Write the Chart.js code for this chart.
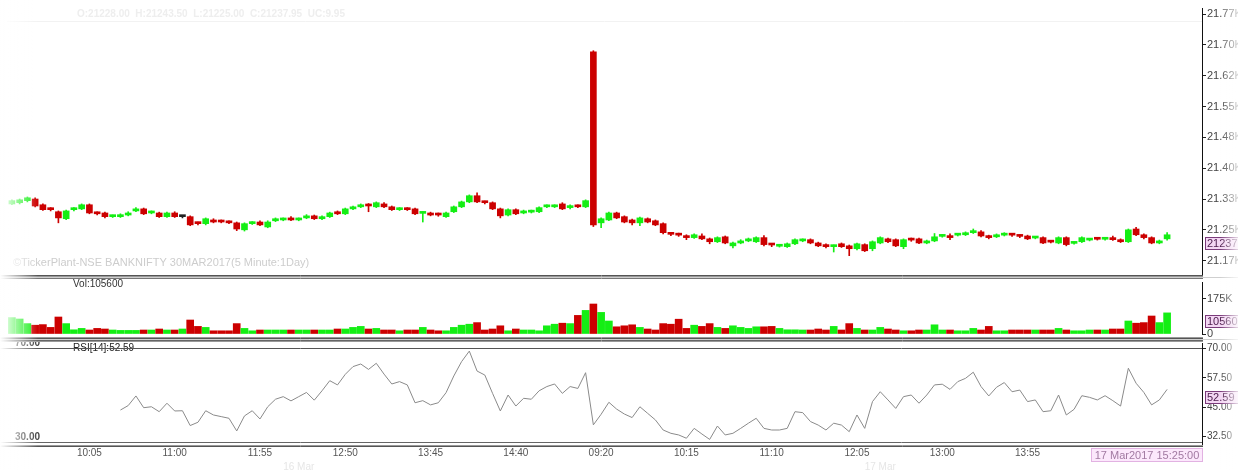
<!DOCTYPE html>
<html>
<head>
<meta charset="utf-8">
<script src="https://cdn.jsdelivr.net/npm/chart.js@4.4.1/dist/chart.umd.min.js"></script>
<style>
  html, body { margin: 0; padding: 0; background: #fff; }
  #wrap { position: relative; width: 1238px; height: 470px; overflow: hidden; }
  #wrap canvas { position: absolute; left: 0; }
</style>
</head>
<body>
<div id="wrap">
  <canvas id="priceChart" width="1238" height="278" style="top:0"></canvas>
  <canvas id="volChart" width="1238" height="63" style="top:277px"></canvas>
  <canvas id="rsiChart" width="1238" height="130" style="top:340px"></canvas>
</div>
<script>
// 5 minute bars, two sessions of 75 bars each
const sessions = ['16 Mar', '17 Mar'];
const tickTimes = ['10:05', '11:00', '11:55', '12:50', '13:45', '14:40', '09:20', '10:15', '11:10', '12:05', '13:00', '13:55'];

const priceTicks = [21175, 21250, 21325, 21400, 21475, 21550, 21625, 21700, 21775];
const priceTickLabels = ['21.17K', '21.25K', '21.33K', '21.40K', '21.48K', '21.55K', '21.62K', '21.70K', '21.77K'];
const volTicks = [0, 175000];
const volTickLabels = ['0', '175K'];
const rsiTicks = [32.5, 45, 57.5, 70];
const rsiTickLabels = ['32.50', '45.00', '57.50', '70.00'];

const open = [
  21313, 21316, 21321, 21325, 21311, 21301, 21294, 21277, 21299, 21301,
  21311, 21291, 21291, 21282, 21282, 21286, 21296, 21301, 21291, 21291,
  21282, 21291, 21282, 21282, 21267, 21265, 21274, 21272, 21269, 21267,
  21250, 21265, 21269, 21257, 21272, 21274, 21279, 21274, 21279, 21284,
  21277, 21282, 21294, 21289, 21301, 21306, 21311, 21306, 21313, 21306,
  21299, 21301, 21301, 21290, 21291, 21289, 21282, 21294, 21306, 21318,
  21333, 21318, 21316, 21301, 21286, 21299, 21291, 21293, 21294, 21306,
  21306, 21313, 21304, 21308, 21306,
  21683, 21267, 21274, 21291, 21282, 21274, 21267, 21277, 21272, 21265,
  21241, 21239, 21235, 21231, 21235, 21228, 21221, 21233, 21211, 21218,
  21223, 21221, 21231, 21215, 21210, 21209, 21216, 21223, 21226, 21218,
  21214, 21209, 21216, 21211, 21204, 21214, 21204, 21218, 21228, 21226,
  21209, 21227, 21228, 21218, 21223, 21234, 21235, 21237, 21238, 21243,
  21245, 21235, 21233, 21237, 21239, 21236, 21235, 21230, 21231, 21222,
  21218, 21231, 21217, 21221, 21225, 21229, 21227, 21231, 21226, 21221,
  21252, 21238, 21231, 21218, 21228
];
const high = [
  21323, 21325, 21330, 21328, 21313, 21304, 21296, 21298, 21304, 21313,
  21313, 21294, 21293, 21286, 21289, 21294, 21304, 21303, 21296, 21293,
  21293, 21294, 21285, 21284, 21269, 21279, 21277, 21274, 21272, 21269,
  21267, 21270, 21272, 21272, 21279, 21279, 21282, 21279, 21287, 21286,
  21284, 21293, 21296, 21303, 21308, 21313, 21314, 21318, 21316, 21308,
  21304, 21304, 21303, 21294, 21293, 21291, 21293, 21308, 21320, 21335,
  21340, 21320, 21318, 21303, 21301, 21301, 21298, 21298, 21306, 21311,
  21311, 21316, 21311, 21311, 21323,
  21686, 21279, 21293, 21293, 21284, 21276, 21281, 21279, 21274, 21267,
  21244, 21242, 21238, 21240, 21240, 21230, 21233, 21235, 21220, 21226,
  21230, 21233, 21236, 21217, 21214, 21218, 21228, 21228, 21228, 21220,
  21216, 21213, 21218, 21213, 21218, 21216, 21223, 21233, 21230, 21228,
  21228, 21230, 21230, 21225, 21241, 21238, 21240, 21241, 21245, 21252,
  21248, 21237, 21240, 21243, 21241, 21238, 21237, 21234, 21233, 21224,
  21233, 21233, 21221, 21233, 21229, 21231, 21231, 21235, 21228, 21252,
  21256, 21240, 21233, 21225, 21243.5
];
const low = [
  21311, 21313, 21318, 21306, 21297, 21296, 21267, 21275, 21296, 21299,
  21289, 21286, 21279, 21280, 21280, 21284, 21294, 21287, 21289, 21280,
  21280, 21280, 21279, 21260, 21262, 21262, 21267, 21267, 21265, 21248,
  21247, 21263, 21260, 21255, 21270, 21272, 21272, 21272, 21277, 21275,
  21275, 21280, 21287, 21287, 21299, 21304, 21294, 21304, 21304, 21297,
  21297, 21297, 21287, 21269, 21284, 21283, 21280, 21292, 21304, 21316,
  21316, 21313, 21299, 21279, 21284, 21287, 21289, 21291, 21292, 21304,
  21304, 21299, 21301, 21304, 21304,
  21258, 21255, 21272, 21277, 21267, 21262, 21260, 21267, 21260, 21240,
  21236, 21234, 21226, 21229, 21226, 21216, 21219, 21216, 21206, 21216,
  21221, 21219, 21211, 21209, 21208, 21207, 21214, 21221, 21216, 21209,
  21206, 21196, 21207, 21187, 21201, 21197, 21199, 21216, 21219, 21209,
  21204, 21222, 21216, 21216, 21221, 21232, 21226, 21235, 21236, 21241,
  21233, 21228, 21231, 21235, 21234, 21231, 21226, 21228, 21216, 21218,
  21216, 21211, 21215, 21219, 21223, 21225, 21225, 21224, 21219, 21219,
  21236, 21228, 21216, 21216, 21225
];
const close = [
  21321, 21323, 21328, 21308, 21299, 21299, 21279, 21296, 21301, 21311,
  21291, 21289, 21282, 21284, 21286, 21291, 21301, 21289, 21294, 21282,
  21291, 21282, 21282, 21262, 21265, 21277, 21269, 21269, 21267, 21252,
  21265, 21267, 21262, 21269, 21277, 21277, 21274, 21277, 21284, 21277,
  21282, 21291, 21289, 21301, 21306, 21311, 21308, 21316, 21306, 21299,
  21301, 21299, 21289, 21292, 21286, 21286, 21291, 21306, 21318, 21333,
  21318, 21316, 21301, 21284, 21299, 21289, 21296, 21295, 21304, 21308,
  21308, 21301, 21308, 21306, 21321,
  21262, 21277, 21291, 21279, 21269, 21267, 21279, 21269, 21262, 21243,
  21239, 21237, 21231, 21238, 21228, 21221, 21231, 21218, 21218, 21223,
  21228, 21231, 21214, 21213, 21212, 21216, 21226, 21226, 21218, 21211,
  21209, 21211, 21209, 21204, 21216, 21199, 21221, 21231, 21221, 21211,
  21226, 21225, 21218, 21223, 21233, 21236, 21231, 21239, 21243, 21248,
  21235, 21231, 21238, 21239, 21237, 21234, 21228, 21232, 21218, 21220,
  21231, 21214, 21219, 21231, 21227, 21227, 21229, 21226, 21221, 21250,
  21238, 21231, 21218, 21223, 21237.95
];
const volume = [
  82000, 75000, 52000, 44000, 47000, 33000, 85000, 52000, 21000, 28000,
  20000, 28000, 25000, 20000, 18000, 18000, 18000, 20000, 20000, 25000,
  20000, 20000, 25000, 70000, 38000, 33000, 16000, 16000, 16000, 52000,
  28000, 16000, 20000, 20000, 20000, 20000, 20000, 20000, 20000, 20000,
  20000, 20000, 25000, 25000, 33000, 38000, 25000, 28000, 20000, 20000,
  16000, 20000, 20000, 33000, 20000, 16000, 16000, 33000, 44000, 49000,
  57000, 20000, 25000, 41000, 16000, 25000, 20000, 20000, 16000, 41000,
  49000, 54000, 52000, 93000, 118000,
  150000, 108000, 65000, 36000, 41000, 46000, 33000, 25000, 20000, 52000,
  49000, 74000, 28000, 44000, 38000, 52000, 33000, 28000, 41000, 33000,
  28000, 36000, 36000, 38000, 28000, 21000, 21000, 20000, 20000, 25000,
  20000, 38000, 20000, 52000, 28000, 20000, 20000, 33000, 25000, 20000,
  16000, 16000, 20000, 20000, 46000, 20000, 20000, 16000, 16000, 28000,
  20000, 38000, 16000, 16000, 20000, 20000, 20000, 20000, 20000, 20000,
  28000, 20000, 16000, 16000, 20000, 20000, 20000, 25000, 25000, 65000,
  54000, 57000, 90000, 57000, 105600
];
const rsi = [
  null, null, null, null, null, null, null, null, null, null,
  null, null, null, null, 43.8, 45.7, 49.8, 44.8, 45.2, 43.1,
  46.7, 43.4, 43.5, 37.2, 38.6, 43.5, 41.7, 41.0, 40.3, 34.9,
  41.3, 43.5, 40.0, 45.2, 48.4, 49.5, 47.7, 49.5, 51.3, 48.0,
  52.0, 56.3, 54.5, 59.0, 62.3, 63.4, 61.1, 63.7, 59.1, 54.9,
  55.9, 54.5, 46.9, 47.8, 46.0, 46.9, 51.2, 58.3, 64.4, 68.9,
  60.4, 58.7, 50.9, 43.4, 50.2, 45.5, 48.8, 48.4, 52.0, 53.8,
  54.9, 50.9, 53.8, 53.0, 59.7,
  37.5, 42.0, 47.1, 44.2, 42.1, 40.6, 45.2, 42.4, 39.6, 35.3,
  33.9, 33.2, 31.8, 36.0, 33.6, 31.3, 37.0, 33.2, 33.9, 36.0,
  38.2, 40.3, 36.0, 35.3, 35.3, 36.0, 43.1, 42.7, 38.9, 37.4,
  35.3, 38.2, 37.4, 34.6, 41.7, 36.0, 47.4, 51.6, 48.1, 44.5,
  49.5, 50.2, 46.7, 50.2, 54.5, 54.8, 52.6, 55.9, 57.3, 59.9,
  53.8, 49.8, 53.5, 55.5, 51.6, 52.3, 47.4, 48.1, 43.1, 43.5,
  50.2, 41.7, 44.1, 49.9, 49.2, 48.1, 49.9, 47.8, 45.5, 61.6,
  55.2, 51.3, 46.0, 48.1, 52.59
];
const lastTime = '17 Mar2017 15:25:00';

// category labels: 09:15 .. 15:25 per session, plus empty slots on the right
const labels = [];
sessions.forEach(() => {
  for (let m = 9 * 60 + 15; m <= 15 * 60 + 25; m += 5) {
    labels.push(String(Math.floor(m / 60)).padStart(2, '0') + ':' + String(m % 60).padStart(2, '0'));
  }
});
const nBars = labels.length;
for (let k = 0; k < 4; k++) labels.push('');

const shownTicks = [];
let tk = 0;
labels.forEach((l, i) => { if (l === tickTimes[tk]) { shownTicks.push(i); tk++; } });

const GREEN = '#14ee14';
const RED = '#cc0000';
const FONT = "'Liberation Sans', Arial, sans-serif";
Chart.defaults.font.family = FONT;
Chart.defaults.animation = false;

const barColor = open.map((o, i) => close[i] > o ? GREEN : (close[i] < o ? RED : '#222'));
const volColor = open.map((o, i) => close[i] >= o ? GREEN : RED);

function yAxis(min, max, ticks, tickLabels, size) {
  return {
    position: 'right', min: min, max: max,
    afterBuildTicks: s => { s.ticks = ticks.map(v => ({ value: v })); },
    afterFit: s => { s.width = 36; s.paddingTop = 0; s.paddingBottom = 0; },
    border: { display: true, color: '#111', width: 1 },
    grid: { drawOnChartArea: false, drawTicks: true, tickLength: 4, color: '#222' },
    ticks: { padding: 1, color: '#444', font: { size: size }, callback: (v, i) => tickLabels[i] }
  };
}

function valueBox(ctx, y, text) {
  ctx.fillStyle = '#f3d6f3';
  ctx.fillRect(1205, y, 34, 13);
  ctx.strokeStyle = '#7a3a7a';
  ctx.lineWidth = 1;
  ctx.strokeRect(1205.5, y + 0.5, 34, 12);
  ctx.fillStyle = '#4a1a4a';
  ctx.font = '11px ' + FONT;
  ctx.textAlign = 'left';
  ctx.textBaseline = 'middle';
  ctx.fillText(text, 1207, y + 7);
}

function hline(ctx, y, x0, x1, color) {
  ctx.strokeStyle = color;
  ctx.lineWidth = 1;
  ctx.beginPath();
  ctx.moveTo(x0, y);
  ctx.lineTo(x1, y);
  ctx.stroke();
}

function fades(ctx, h) {
  let g = ctx.createLinearGradient(0, 0, 38, 0);
  g.addColorStop(0, 'rgba(255,255,255,1)');
  g.addColorStop(1, 'rgba(255,255,255,0)');
  ctx.fillStyle = g;
  ctx.fillRect(0, 0, 38, h);
  g = ctx.createLinearGradient(1220, 0, 1238, 0);
  g.addColorStop(0, 'rgba(255,255,255,0)');
  g.addColorStop(1, 'rgba(255,255,255,0.8)');
  ctx.fillStyle = g;
  ctx.fillRect(1220, 0, 18, h);
}

const hiddenX = { type: 'category', display: false, offset: true, grid: { display: false } };

new Chart(document.getElementById('priceChart'), {
  type: 'bar',
  data: {
    labels: labels,
    datasets: [{
      label: 'wick',
      data: low.map((l, i) => [l, high[i]]),
      backgroundColor: barColor,
      barThickness: 1,
      grouped: false,
      order: 2
    }, {
      label: 'body',
      data: open.map((o, i) => [Math.min(o, close[i]), Math.max(o, close[i])]),
      backgroundColor: barColor,
      barThickness: 6,
      minBarLength: 2,
      grouped: false,
      order: 1
    }]
  },
  options: {
    responsive: false,
    events: [],
    layout: { padding: { left: 8, right: 0, top: 8, bottom: 3 } },
    plugins: { legend: { display: false }, tooltip: { enabled: false } },
    scales: {
      x: hiddenX,
      y: yAxis(21140, 21790, priceTicks, priceTickLabels, 11)
    }
  },
  plugins: [{
    id: 'priceDecor',
    afterDraw(chart) {
      const ctx = chart.ctx;
      ctx.save();
      ctx.textAlign = 'left';
      ctx.textBaseline = 'middle';
      ctx.font = 'bold 10px ' + FONT;
      ctx.fillStyle = '#eeeeee';
      ctx.fillText('O:' + open[nBars - 1].toFixed(2) + '  H:' + high[nBars - 1].toFixed(2) + '  L:' +
        low[nBars - 1].toFixed(2) + '  C:' + close[nBars - 1].toFixed(2) + '  UC:' +
        (close[nBars - 1] - open[nBars - 1]).toFixed(2), 77, 14);
      ctx.font = '11px ' + FONT;
      ctx.fillStyle = '#cdcdcd';
      ctx.fillText('\u00a9TickerPlant-NSE BANKNIFTY 30MAR2017(5 Minute:1Day)', 13, 263);
      hline(ctx, 21.5, 7, chart.chartArea.right, '#f2f2f2');
      hline(ctx, 275.5, 0, chart.chartArea.right + 1, '#555');
      hline(ctx, 276.5, 0, chart.chartArea.right + 1, '#999');
      hline(ctx, 277.5, 0, 1238, '#cfcfcf');
      valueBox(ctx, Math.round(chart.scales.y.getPixelForValue(close[nBars - 1])) + 2,
        String(Math.floor(close[nBars - 1])));
      fades(ctx, 278);
      ctx.restore();
    }
  }]
});

new Chart(document.getElementById('volChart'), {
  type: 'bar',
  data: {
    labels: labels,
    datasets: [{
      label: 'Vol',
      data: volume,
      backgroundColor: volColor,
      barThickness: 7
    }]
  },
  options: {
    responsive: false,
    events: [],
    layout: { padding: { left: 8, right: 0, top: 5, bottom: 6 } },
    plugins: { legend: { display: false }, tooltip: { enabled: false } },
    scales: {
      x: hiddenX,
      y: yAxis(0, 260000, volTicks, volTickLabels, 11)
    }
  },
  plugins: [{
    id: 'volDecor',
    afterDraw(chart) {
      const ctx = chart.ctx;
      ctx.save();
      ctx.font = '10px ' + FONT;
      ctx.fillStyle = '#333';
      ctx.textAlign = 'left';
      ctx.textBaseline = 'middle';
      ctx.fillText('Vol:' + volume[nBars - 1], 73, 7);
      hline(ctx, 0.5, 0, 1238, '#cfcfcf');
      hline(ctx, 1.5, 0, chart.chartArea.right + 1, '#777');
      hline(ctx, 60.5, 0, chart.chartArea.right + 1, '#999');
      hline(ctx, 61.5, 0, chart.chartArea.right + 1, '#555');
      hline(ctx, 62.5, 0, 1238, '#cfcfcf');
      valueBox(ctx, Math.round(chart.scales.y.getPixelForValue(volume[nBars - 1])) + 2, String(volume[nBars - 1]));
      fades(ctx, 63);
      ctx.restore();
    }
  }]
});

new Chart(document.getElementById('rsiChart'), {
  type: 'line',
  data: {
    labels: labels,
    datasets: [{
      label: 'RSI[14]',
      data: rsi,
      borderColor: '#8a8a8a',
      borderWidth: 1,
      pointRadius: 0,
      tension: 0,
      spanGaps: false
    }]
  },
  options: {
    responsive: false,
    events: [],
    layout: { padding: { left: 8, right: 0, top: 3, bottom: 0 } },
    plugins: { legend: { display: false }, tooltip: { enabled: false } },
    scales: {
      x: {
        type: 'category', offset: true,
        grid: { display: false, drawTicks: false },
        border: { display: false },
        afterFit: s => { s.height = 25; s.paddingLeft = 0; s.paddingRight = 0; },
        ticks: {
          autoSkip: false, maxRotation: 0, padding: 2, color: '#555', font: { size: 10 },
          callback: (v, i) => shownTicks.includes(i) ? labels[i] : ''
        }
      },
      y: yAxis(28.92, 72.34, rsiTicks, rsiTickLabels, 10)
    }
  },
  plugins: [{
    id: 'rsiDecor',
    beforeDatasetsDraw(chart) {
      const ctx = chart.ctx, y = chart.scales.y;
      ctx.save();
      ctx.font = 'bold 10px ' + FONT;
      ctx.fillStyle = '#444';
      ctx.textAlign = 'left';
      ctx.textBaseline = 'middle';
      ctx.fillText('70.00', 15, 3);
      ctx.fillText('30.00', 15, Math.round(y.getPixelForValue(30)) - 5);
      ctx.font = '10px ' + FONT;
      ctx.fillStyle = '#222';
      ctx.fillText('RSI[14]:' + rsi[nBars - 1].toFixed(2), 73, 8);
      hline(ctx, Math.round(y.getPixelForValue(70)) + 0.5, 0, chart.chartArea.right, '#555');
      hline(ctx, Math.round(y.getPixelForValue(30)) + 0.5, 0, chart.chartArea.right, '#666');
      ctx.restore();
    },
    afterDraw(chart) {
      const ctx = chart.ctx, x = chart.scales.x;
      ctx.save();
      hline(ctx, 0.5, 0, chart.chartArea.right + 1, '#666');
      hline(ctx, 1.5, 0, chart.chartArea.right + 1, '#999');
      hline(ctx, 105.5, 0, chart.chartArea.right + 1, '#999');
      hline(ctx, 106.5, 0, chart.chartArea.right + 1, '#555');
      valueBox(ctx, Math.round(chart.scales.y.getPixelForValue(rsi[nBars - 1])) + 2, rsi[nBars - 1].toFixed(2));
      // session names under the time axis
      ctx.font = '10px ' + FONT;
      ctx.fillStyle = '#e6e6e6';
      ctx.textAlign = 'center';
      ctx.textBaseline = 'middle';
      sessions.forEach((s, k) => {
        ctx.fillText(s, x.getPixelForValue(k * 75 + 37), 127);
      });
      // last bar time box
      ctx.fillStyle = '#fce8fc';
      ctx.fillRect(1091, 108, 112, 14);
      ctx.strokeStyle = '#e2b2e2';
      ctx.strokeRect(1091.5, 108.5, 111, 13);
      ctx.font = '11px ' + FONT;
      ctx.fillStyle = '#a27aa2';
      ctx.fillText(lastTime, 1147, 115.5);
      fades(ctx, 130);
      ctx.restore();
    }
  }]
});
</script>
</body>
</html>
